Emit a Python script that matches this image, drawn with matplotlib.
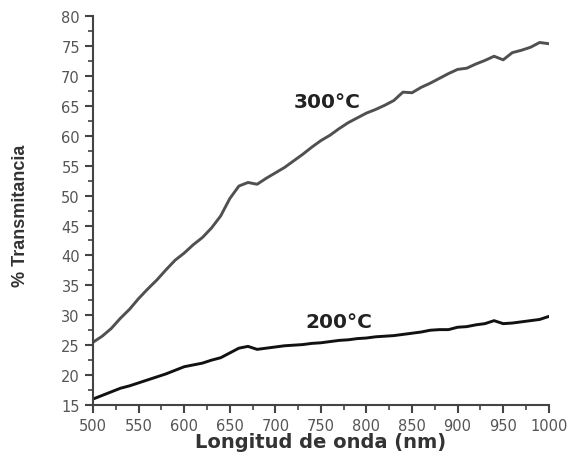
import numpy as np
import matplotlib
matplotlib.use("Agg")
import matplotlib.pyplot as plt
from matplotlib.ticker import MultipleLocator

wavelength = list(range(500, 1001, 10))

t300 = [25.5, 26.5, 27.8, 29.5, 31.0, 32.8, 34.4, 35.9, 37.6, 39.2,
        40.4, 41.8, 43.0, 44.6, 46.6, 49.5, 51.6, 52.2, 51.9, 52.9,
        53.8, 54.7, 55.8, 56.9, 58.1, 59.2, 60.1, 61.2, 62.2, 63.0,
        63.8, 64.4, 65.1, 65.9, 67.3, 67.2, 68.1, 68.8, 69.6, 70.4,
        71.1, 71.3, 72.0, 72.6, 73.3, 72.7, 73.9, 74.3, 74.8, 75.6,
        75.4]

t200 = [16.0, 16.6, 17.2, 17.8, 18.2, 18.7, 19.2, 19.7, 20.2, 20.8,
        21.4, 21.7, 22.0, 22.5, 22.9, 23.7, 24.5, 24.8, 24.3, 24.5,
        24.7, 24.9, 25.0, 25.1, 25.3, 25.4, 25.6, 25.8, 25.9, 26.1,
        26.2, 26.4, 26.5, 26.6, 26.8, 27.0, 27.2, 27.5, 27.6, 27.6,
        28.0, 28.1, 28.4, 28.6, 29.1, 28.6, 28.7, 28.9, 29.1, 29.3,
        29.8]

plt.rcParams['font.family'] = ['DejaVu Sans']

fig = plt.figure(figsize=(5.71, 4.64), dpi=100)
ax = fig.add_axes([0.163, 0.125, 0.798, 0.838])

ax.plot(wavelength, t300, color='#505050', lw=2.1)
ax.plot(wavelength, t200, color='#111111', lw=2.1)

ax.text(757, 65.7, '300°C', fontsize=14.5, fontweight='bold',
        ha='center', va='center', color='#222222')
ax.text(770, 28.9, '200°C', fontsize=14.5, fontweight='bold',
        ha='center', va='center', color='#222222')

ax.set_xlim(500, 1000)
ax.set_ylim(15, 80)
ax.xaxis.set_major_locator(MultipleLocator(50))
ax.xaxis.set_minor_locator(MultipleLocator(25))
ax.yaxis.set_major_locator(MultipleLocator(5))
ax.yaxis.set_minor_locator(MultipleLocator(2.5))

for s in ['top', 'right']:
    ax.spines[s].set_visible(False)
for s in ['left', 'bottom']:
    ax.spines[s].set_color('#444444')
    ax.spines[s].set_linewidth(1.5)

ax.tick_params(which='major', direction='out', length=6, width=1.5,
               color='#444444', labelsize=10.5, labelcolor='#555555')
ax.tick_params(which='minor', direction='out', length=3.5, width=1.2,
               color='#444444')

ax.set_xlabel('Longitud de onda (nm)', fontsize=14, fontweight='bold',
              color='#333333', va='center')
ax.xaxis.set_label_coords(0.5, -0.095)
ax.set_ylabel('% Transmitancia', fontsize=13, fontweight='bold',
              family='Liberation Sans', color='#333333', va='center')
ax.yaxis.set_label_coords(-0.16, 0.49)

fig.savefig('out.png', dpi=100)
